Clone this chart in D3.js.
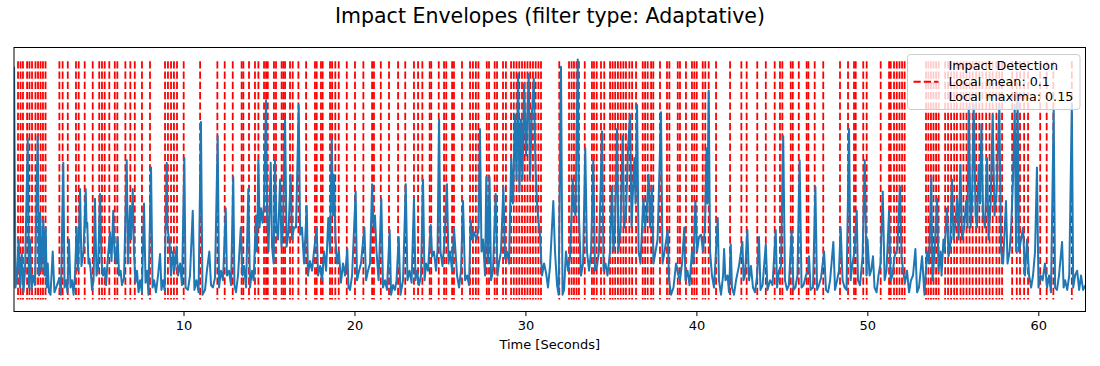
<!DOCTYPE html>
<html>
<head>
<meta charset="utf-8">
<title>Impact Envelopes</title>
<script src="https://cdn.jsdelivr.net/npm/d3@7"></script>
<style>
  body { margin: 0; background: #fff; }
  svg { display: block; font-family: "DejaVu Sans", sans-serif; }
</style>
</head>
<body>
<svg id="chart" width="1100" height="366"></svg>
<script>
// Times (seconds) where an impact was detected
const impactTimes = [
  0.32, 0.47, 0.61, 0.85, 0.99, 1.14, 1.34, 1.49, 1.64, 1.78, 1.93,
  2.74, 2.93, 3.23, 3.71, 3.87, 4.22, 4.69, 5.07, 5.23, 5.39, 5.66, 5.98, 6.13,
  6.60, 6.89, 7.15, 7.57, 8.04, 8.92, 9.09, 9.27, 9.44, 9.62, 10.01,
  10.97, 11.98, 12.41, 12.88, 13.40, 13.50, 13.83, 14.18, 14.38, 14.71, 14.83, 14.93,
  15.29, 15.41, 15.74, 15.84, 15.94, 16.23, 16.39, 16.72, 17.17, 17.69, 17.79, 18.04,
  18.14, 18.57, 18.69, 18.88, 19.08, 19.55, 20.03, 20.52,
  21.03, 21.14, 21.54, 22.02, 22.55, 22.97, 23.48, 23.72, 23.97, 24.40, 24.49, 24.93,
  25.24, 25.37, 25.71, 25.82, 26.29, 26.76, 26.93, 27.10, 27.25, 27.74, 27.87,
  28.20, 28.34, 28.69, 28.86,
  29.16, 29.32, 29.48, 29.64, 29.80, 29.96, 30.12, 30.28, 30.44, 30.60, 30.76, 30.91,
  31.98, 32.55, 32.70, 32.84, 32.99, 33.13, 33.47, 33.89, 34.01, 34.17, 34.42, 34.61,
  34.95, 35.10, 35.25, 35.41, 35.57, 35.73, 35.88, 36.08, 36.24, 36.47,
  36.86, 37.00, 37.15, 37.35, 37.48, 37.87, 38.28, 38.42, 38.91, 39.04, 39.39, 39.74,
  39.88, 40.02, 40.37, 40.52, 40.72, 41.15,
  41.97, 42.63, 42.94, 43.56, 44.06, 44.58, 44.89, 45.03, 45.52, 45.64, 45.99, 46.45,
  46.55, 46.92, 47.42, 48.40, 48.87, 49.22, 49.32, 49.76, 49.96, 50.78, 51.27, 51.37,
  51.56, 51.72, 51.88, 52.03, 52.18,
  53.43, 53.57, 53.72, 53.87, 54.02, 54.17, 54.55, 54.72, 54.90, 55.08, 55.24, 55.45,
  55.62, 55.80, 55.98, 56.16, 56.36, 56.55, 56.73, 56.95, 57.15, 57.33, 57.55, 57.72,
  57.88, 58.47, 58.74, 58.93, 59.17, 59.40, 60.11, 60.49, 60.88, 61.96
];

// Envelope signal [time in seconds, normalised amplitude]
const envelope = [
  [0.09,.97],[0.17,.05],[0.26,.10],[0.36,.25],[0.44,.05],[0.54,.19],[0.64,.03],[0.73,.12],
  [0.89,.67],[0.96,.05],[1.02,.25],[1.11,.04],[1.20,.10],[1.31,.06],[1.47,.68],[1.55,.10],
  [1.61,.36],[1.69,.12],[1.80,.33],[1.87,.10],[1.94,.30],[2.00,.05],[2.06,.15],[2.13,.03],
  [2.22,.02],[2.35,.20],[2.45,.03],[2.60,.06],[2.74,.09],[2.83,.02],[2.97,.57],[3.04,.05],
  [3.13,.08],[3.21,.03],[3.30,.25],[3.39,.05],[3.48,.08],[3.57,.02],[3.65,.10],[3.75,.30],
  [3.83,.12],[3.95,.46],[4.03,.14],[4.15,.20],[4.28,.46],[4.33,.30],[4.37,.32],[4.44,.15],
  [4.50,.17],[4.57,.12],[4.65,.04],[4.74,.08],[4.82,.42],[4.91,.10],[5.00,.13],[5.12,.44],
  [5.20,.16],[5.29,.10],[5.38,.13],[5.47,.06],[5.55,.15],[5.70,.28],[5.79,.16],[5.89,.37],
  [5.96,.20],[6.05,.15],[6.15,.26],[6.23,.10],[6.32,.12],[6.40,.06],[6.52,.09],[6.68,.58],
  [6.75,.15],[6.87,.39],[6.93,.25],[7.03,.46],[7.10,.20],[7.19,.07],[7.28,.12],[7.37,.03],
  [7.46,.08],[7.57,.03],[7.69,.40],[7.78,.07],[7.87,.12],[7.95,.02],[8.10,.55],[8.19,.05],
  [8.28,.08],[8.39,.03],[8.51,.10],[8.63,.19],[8.71,.04],[8.80,.08],[8.89,.04],[9.02,.57],
  [9.06,.30],[9.18,.24],[9.27,.10],[9.39,.20],[9.47,.12],[9.59,.22],[9.68,.10],[9.80,.15],
  [9.91,.06],[10.05,.59],[10.12,.05],[10.26,.04],[10.38,.10],[10.54,.37],[10.64,.04],[10.76,.08],
  [10.88,.03],[11.02,.74],[11.11,.02],[11.26,.04],[11.37,.12],[11.51,.20],[11.61,.06],[11.72,.05],
  [11.84,.09],[12.00,.68],[12.08,.05],[12.19,.12],[12.31,.08],[12.47,.38],[12.54,.10],[12.66,.12],
  [12.78,.06],[12.91,.51],[12.98,.06],[13.07,.03],[13.19,.10],[13.35,.30],[13.45,.10],[13.54,.14],
  [13.66,.05],[13.79,.46],[13.89,.05],[14.01,.12],[14.10,.08],[14.24,.35],[14.30,.20],[14.38,.58],
  [14.45,.30],[14.53,.38],[14.62,.32],[14.71,.40],[14.83,.83],[14.89,.35],[14.97,.20],[15.10,.57],
  [15.18,.22],[15.27,.15],[15.35,.58],[15.44,.30],[15.53,.25],[15.65,.50],[15.73,.22],[15.82,.30],
  [15.94,.75],[16.03,.22],[16.14,.28],[16.27,.52],[16.35,.25],[16.46,.30],[16.58,.30],[16.74,.81],
  [16.82,.27],[16.93,.30],[17.05,.15],[17.21,.39],[17.28,.10],[17.40,.16],[17.52,.12],[17.63,.20],
  [17.79,.30],[17.87,.10],[17.99,.14],[18.10,.08],[18.22,.20],[18.34,.12],[18.47,.34],[18.57,.20],
  [18.67,.67],[18.75,.35],[18.80,.52],[18.89,.25],[18.98,.15],[19.09,.20],[19.21,.07],[19.33,.15],
  [19.45,.10],[19.58,.21],[19.65,.05],[19.74,.04],[19.86,.10],[20.07,.45],[20.15,.08],[20.27,.12],
  [20.38,.15],[20.58,.30],[20.68,.08],[20.79,.12],[20.91,.15],[21.03,.48],[21.11,.30],[21.20,.35],
  [21.29,.20],[21.41,.08],[21.57,.42],[21.67,.05],[21.79,.08],[21.90,.04],[22.06,.29],[22.14,.02],
  [22.26,.06],[22.37,.04],[22.46,.08],[22.59,.26],[22.69,.02],[22.84,.08],[23.00,.48],[23.10,.08],
  [23.22,.12],[23.34,.07],[23.48,.42],[23.57,.08],[23.66,.12],[23.78,.06],[23.89,.10],[24.01,.50],
  [24.10,.08],[24.19,.15],[24.30,.12],[24.46,.31],[24.54,.18],[24.65,.20],[24.77,.12],[24.86,.21],
  [24.95,.75],[25.03,.20],[25.15,.14],[25.27,.25],[25.41,.48],[25.50,.15],[25.59,.20],[25.71,.12],
  [25.82,.30],[25.91,.20],[26.00,.10],[26.12,.05],[26.23,.12],[26.35,.41],[26.47,.08],[26.59,.10],
  [26.70,.06],[26.80,.33],[26.88,.25],[26.99,.28],[27.14,.25],[27.26,.30],[27.34,.71],[27.43,.20],
  [27.52,.25],[27.64,.10],[27.71,.51],[27.81,.15],[27.90,.51],[27.99,.08],[28.10,.12],[28.26,.44],
  [28.37,.10],[28.45,.15],[28.57,.20],[28.71,.47],[28.81,.17],[28.92,.20],[29.04,.15],[29.17,.59],
  [29.27,.40],[29.39,.77],[29.48,.50],[29.57,.94],[29.65,.45],[29.74,.75],[29.83,.50],[29.92,.90],
  [30.04,.60],[30.19,.94],[30.27,.50],[30.36,.75],[30.49,.92],[30.59,.55],[30.68,.40],[30.77,.32],
  [30.85,.27],[30.97,.10],[31.09,.15],[31.21,.11],[31.32,.05],[31.44,.14],[31.63,.41],[31.73,.20],
  [31.85,.06],[31.94,.02],[32.08,.97],[32.17,.02],[32.26,.04],[32.37,.20],[32.49,.12],[32.61,.18],
  [32.77,.50],[32.84,.38],[32.93,.35],[33.06,1.0],[33.13,.35],[33.25,.10],[33.37,.15],[33.50,.63],
  [33.60,.20],[33.72,.12],[33.84,.20],[33.97,.58],[34.07,.12],[34.19,.14],[34.30,.20],[34.48,.70],
  [34.57,.12],[34.68,.15],[34.80,.10],[34.95,.20],[35.06,.47],[35.15,.20],[35.24,.30],[35.36,.71],
  [35.44,.20],[35.56,.30],[35.69,.68],[35.77,.30],[35.88,.35],[36.00,.63],[36.12,.77],[36.21,.30],
  [36.26,.40],[36.37,.59],[36.44,.40],[36.53,.81],[36.62,.20],[36.73,.15],[36.90,.42],[37.00,.30],
  [37.08,.35],[37.21,.52],[37.29,.30],[37.40,.47],[37.49,.15],[37.61,.20],[37.73,.25],[37.93,.78],
  [38.02,.15],[38.14,.20],[38.32,.29],[38.40,.08],[38.52,.02],[38.66,.05],[38.81,.15],[38.95,.10],
  [39.04,.08],[39.16,.15],[39.29,.30],[39.36,.08],[39.48,.12],[39.60,.06],[39.74,.20],[39.83,.15],
  [39.94,.41],[40.04,.20],[40.15,.26],[40.27,.27],[40.39,.20],[40.50,.30],[40.60,.63],[40.65,.40],
  [40.72,.87],[40.80,.20],[40.91,.10],[41.03,.05],[41.25,.34],[41.32,.08],[41.44,.02],[41.56,.10],
  [41.62,.21],[41.70,.08],[41.82,.10],[41.91,.03],[42.01,.23],[42.08,.05],[42.20,.02],[42.32,.08],
  [42.49,.14],[42.69,.24],[42.76,.08],[42.84,.10],[42.98,.29],[43.08,.08],[43.19,.14],[43.31,.05],
  [43.43,.03],[43.55,.10],[43.66,.26],[43.75,.04],[43.87,.06],[44.06,.23],[44.16,.04],[44.31,.08],
  [44.45,.06],[44.64,.29],[44.72,.05],[44.83,.12],[44.95,.14],[45.08,.68],[45.18,.08],[45.30,.04],
  [45.41,.06],[45.57,.29],[45.68,.04],[45.79,.05],[45.91,.10],[46.04,.58],[46.15,.05],[46.27,.06],
  [46.41,.10],[46.53,.12],[46.59,.18],[46.68,.04],[46.82,.05],[46.96,.47],[47.06,.04],[47.17,.06],
  [47.29,.09],[47.47,.20],[47.58,.04],[47.70,.03],[47.82,.08],[48.01,.24],[48.11,.04],[48.23,.08],
  [48.34,.12],[48.44,.30],[48.55,.08],[48.67,.05],[48.78,.04],[48.93,.71],[49.02,.08],[49.13,.15],
  [49.25,.20],[49.38,.37],[49.45,.08],[49.57,.06],[49.72,.18],[49.85,.58],[49.95,.10],[50.01,.25],
  [50.13,.10],[50.22,.12],[50.33,.18],[50.42,.05],[50.54,.03],[50.65,.10],[50.77,.15],[50.90,.45],
  [51.01,.08],[51.12,.12],[51.27,.37],[51.36,.08],[51.47,.10],[51.59,.18],[51.75,.21],[51.91,.47],
  [52.00,.18],[52.09,.12],[52.20,.07],[52.32,.12],[52.44,.03],[52.55,.08],[52.67,.10],[52.81,.21],
  [52.91,.03],[53.02,.05],[53.20,.18],[53.34,.02],[53.49,.20],[53.61,.15],[53.74,.51],[53.81,.08],
  [53.93,.20],[54.08,.42],[54.16,.12],[54.28,.20],[54.34,.10],[54.45,.25],[54.51,.20],[54.66,.38],
  [54.75,.18],[54.84,.22],[54.95,.50],[55.04,.25],[55.13,.30],[55.25,.42],[55.34,.25],[55.44,.56],
  [55.54,.25],[55.66,.30],[55.78,.41],[55.86,.30],[55.93,.80],[56.04,.30],[56.12,.40],[56.22,.81],
  [56.33,.35],[56.41,.30],[56.51,.56],[56.59,.40],[56.67,.73],[56.77,.35],[56.88,.30],[57.00,.59],
  [57.09,.25],[57.21,.40],[57.33,.77],[57.44,.35],[57.56,.45],[57.72,.81],[57.82,.20],[57.94,.15],
  [58.11,.41],[58.20,.15],[58.32,.20],[58.41,.30],[58.52,.50],[58.62,.81],[58.70,.20],[58.79,.85],
  [58.87,.20],[58.99,.25],[59.11,.30],[59.22,.10],[59.34,.25],[59.46,.10],[59.58,.05],[59.69,.10],
  [59.81,.20],[59.92,.55],[60.01,.05],[60.13,.10],[60.25,.08],[60.39,.15],[60.51,.05],[60.63,.10],
  [60.74,.03],[60.90,.79],[60.98,.05],[61.09,.04],[61.21,.10],[61.39,.24],[61.48,.05],[61.57,.08],
  [61.69,.04],[61.81,.10],[61.96,.81],[62.04,.05],[62.15,.10],[62.27,.12],[62.39,.04],[62.50,.10],
  [62.62,.04],[62.76,.06]
];

const xTicks = [10, 20, 30, 40, 50, 60];
const legendLabels = ["Impact Detection", "Local mean: 0.1", "Local maxima: 0.15"];

const svg = d3.select("#chart");

// Axes box in pixels
const margin = { top: 47.5, right: 14.5, bottom: 54.5, left: 14 };
const width = 1100 - margin.left - margin.right;
const height = 366 - margin.top - margin.bottom;

const x = d3.scaleLinear().domain([0.085, 62.76]).range([0, width]);
const y = d3.scaleLinear().domain([-0.05, 1.05]).range([height, 0]);

const g = svg.append("g").attr("transform", `translate(${margin.left},${margin.top})`);

g.append("defs").append("clipPath").attr("id", "clip")
  .append("rect").attr("width", width).attr("height", height);

const plot = g.append("g").attr("clip-path", "url(#clip)");

// Red dashed impact markers
plot.append("g")
  .selectAll("line")
  .data(impactTimes)
  .enter()
  .append("line")
  .attr("x1", d => x(d))
  .attr("x2", d => x(d))
  .attr("y1", y(0.993))
  .attr("y2", y(0))
  .attr("stroke", "#ff0000")
  .attr("stroke-width", 1.8)
  .attr("stroke-dasharray", "7.2,3.1");

// Envelope line
const line = d3.line().x(d => x(d[0])).y(d => y(d[1]));
plot.append("path")
  .datum(envelope)
  .attr("d", line)
  .attr("fill", "none")
  .attr("stroke", "#1f77b4")
  .attr("stroke-width", 2)
  .attr("stroke-linejoin", "round");

// x axis
const xAxis = d3.axisBottom(x).tickValues(xTicks).tickSize(4.6).tickPadding(4.5).tickFormat(d3.format("d"));
const ax = g.append("g").attr("transform", `translate(0,${height})`).call(xAxis);
ax.select(".domain").remove();
ax.selectAll("line").attr("stroke", "#000").attr("stroke-width", 1);
ax.selectAll("text").attr("font-size", 13).attr("fill", "#000")
  .attr("font-family", "DejaVu Sans");

// frame
g.append("rect")
  .attr("width", width).attr("height", height)
  .attr("fill", "none").attr("stroke", "#000").attr("stroke-width", 1);

// axis label
svg.append("text")
  .attr("x", margin.left + width / 2)
  .attr("y", 349)
  .attr("text-anchor", "middle")
  .attr("font-size", 13)
  .text("Time [Seconds]");

// title
svg.append("text")
  .attr("x", 550)
  .attr("y", 23)
  .attr("text-anchor", "middle")
  .attr("font-size", 20.5)
  .text("Impact Envelopes (filter type: Adaptative)");

// legend
const lg = svg.append("g").attr("transform", "translate(907.5,54.5)");
lg.append("rect")
  .attr("width", 172.5).attr("height", 55)
  .attr("rx", 3)
  .attr("fill", "#fff").attr("fill-opacity", 0.8)
  .attr("stroke", "#cccccc").attr("stroke-width", 1);
lg.append("line")
  .attr("x1", 6).attr("x2", 31)
  .attr("y1", 27.2).attr("y2", 27.2)
  .attr("stroke", "#ff0000").attr("stroke-width", 2)
  .attr("stroke-dasharray", "7.2,3.1");
lg.selectAll("text.lbl")
  .data(legendLabels)
  .enter()
  .append("text")
  .attr("class", "lbl")
  .attr("x", 41)
  .attr("y", (d, i) => 15.8 + i * 15.5)
  .attr("font-size", 12.7)
  .text(d => d);
</script>
</body>
</html>
